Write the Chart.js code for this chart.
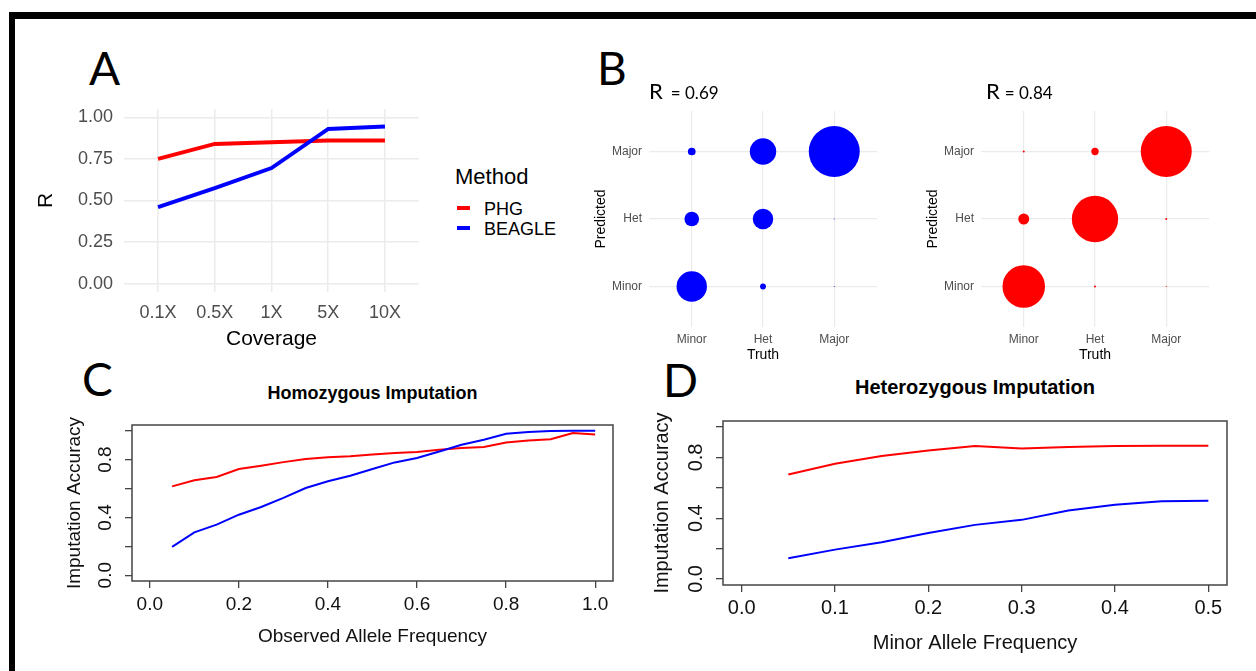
<!DOCTYPE html>
<html>
<head>
<meta charset="utf-8">
<title>PHG vs BEAGLE imputation</title>
<script src="https://cdn.jsdelivr.net/npm/chart.js@4.4.1/dist/chart.umd.min.js"></script>
<style>
  html, body { margin: 0; padding: 0; background: #fff; }
  #fig { position: relative; width: 1256px; height: 671px; overflow: hidden; background: #fff;
         font-family: 'Liberation Sans', Arial, sans-serif; color: #000; }
  #fig canvas, #fig .abs { position: absolute; }
  .frame { position: absolute; background: #000; }
  .letter { position: absolute; font-family: Lato, sans-serif; font-size: 46px; line-height: 46px; }
  .rlab { position: absolute; font-family: Lato, sans-serif; font-size: 22px; line-height: 22px; white-space: nowrap; }
  .ptitle { position: absolute; text-align: center; font-weight: bold; white-space: nowrap; }
</style>
</head>
<body>
<div id="fig">
  <div class="frame" style="left:9px;top:12px;width:1247px;height:7px"></div>
  <div class="frame" style="left:9px;top:12px;width:6px;height:659px"></div>

  <div class="letter" style="left:89px;top:45px">A</div>
  <div class="letter" style="left:597px;top:45px">B</div>
  <div class="letter" style="left:82px;top:356px">C</div>
  <div class="letter" style="left:663px;top:357px">D</div>

  <canvas id="chartA" width="420" height="300" style="left:20px;top:60px"></canvas>
  <div id="legendA"></div>

  <canvas id="chartB1" width="295" height="270" style="left:588px;top:100px"></canvas>
  <canvas id="chartB2" width="295" height="270" style="left:920px;top:100px"></canvas>
  <div class="rlab" id="rB1" style="left:649px;top:80px"></div>
  <div class="rlab" id="rB2" style="left:986px;top:80px"></div>

  <div class="ptitle" style="left:132px;top:384px;width:481px;font-size:18px;line-height:18px">Homozygous Imputation</div>
  <canvas id="chartC" width="575" height="245" style="left:55px;top:415px"></canvas>

  <div class="ptitle" style="left:723px;top:377px;width:504px;font-size:20px;line-height:20px">Heterozygous Imputation</div>
  <canvas id="chartD" width="600" height="255" style="left:645px;top:410px"></canvas>
</div>

<script>
// A: correlation by coverage
const coverage = ['0.1X', '0.5X', '1X', '5X', '10X'];
const phgR = [0.75, 0.84, 0.85, 0.86, 0.86];
const beagleR = [0.46, 0.575, 0.695, 0.93, 0.945];
const rTicks = [0, 0.25, 0.5, 0.75, 1];
const methods = ['PHG', 'BEAGLE'];

// B: % of calls, rows = predicted (Minor, Het, Major), columns = truth (Minor, Het, Major)
const genotypes = ['Minor', 'Het', 'Major'];
const beagleCalls = [[18.6, 0.7, 0.02], [4.3, 8.5, 0.02], [1.2, 14.1, 52.4]];
const phgCalls = [[26.8, 0.06, 0.02], [1.8, 31.8, 0.06], [0.06, 0.8, 38.6]];
const beagleCorr = 0.69;
const phgCorr = 0.84;

// C: homozygous imputation accuracy
const obsFreq = [0.05, 0.1, 0.15, 0.2, 0.25, 0.3, 0.35, 0.4, 0.45, 0.5,
                 0.55, 0.6, 0.65, 0.7, 0.75, 0.8, 0.85, 0.9, 0.95, 1.0];
const homPHG = [0.615, 0.657, 0.68, 0.735, 0.758, 0.783, 0.804, 0.816, 0.823, 0.836,
                0.846, 0.853, 0.869, 0.88, 0.887, 0.919, 0.933, 0.942, 0.984, 0.975];
const homBEAGLE = [0.196, 0.297, 0.35, 0.419, 0.472, 0.535, 0.604, 0.65, 0.689, 0.735,
                   0.781, 0.811, 0.857, 0.903, 0.938, 0.979, 0.991, 0.998, 1.0, 1.0];
const homTicks = [0, 0.2, 0.4, 0.6, 0.8, 1.0];

// D: heterozygous imputation accuracy
const mafFreq = [0.05, 0.1, 0.15, 0.2, 0.25, 0.3, 0.35, 0.4, 0.45, 0.5];
const hetPHG = [0.688, 0.758, 0.809, 0.846, 0.875, 0.859, 0.868, 0.875, 0.877, 0.877];
const hetBEAGLE = [0.136, 0.193, 0.242, 0.303, 0.356, 0.389, 0.451, 0.488, 0.512, 0.514];
const hetTicks = [0, 0.1, 0.2, 0.3, 0.4, 0.5];

const accTicks = [0, 0.2, 0.4, 0.6, 0.8, 1.0];
const accLabelled = [0, 0.4, 0.8];

const RED = '#ff0000';
const BLUE = '#0000ff';
const methodColors = [RED, BLUE];

Chart.defaults.font.family = "'Liberation Sans', Arial, sans-serif";
Chart.defaults.color = '#000';

// pin axis sizes so the plot areas land where the figure has them
const fix = (w, h) => (s) => {
  if (w != null) s.width = w;
  if (h != null) s.height = h;
  s.paddingTop = s.paddingBottom = s.paddingLeft = s.paddingRight = 0;
};
const setTicks = (vals) => (s) => { s.ticks = vals.map(value => ({ value })); };
const near = (a, b) => Math.abs(a - b) < 1e-6;

const base = {
  responsive: false,
  animation: false,
  events: [],
  plugins: { legend: { display: false }, tooltip: { enabled: false } },
};

// ---- A ----
const rGrid = [];
rTicks.forEach((t, i) => { rGrid.push(t); if (i < rTicks.length - 1) rGrid.push((t + rTicks[i + 1]) / 2); });
const isMajorR = v => rTicks.some(t => near(t, v));

new Chart(document.getElementById('chartA'), {
  type: 'line',
  data: {
    datasets: [
      { label: 'BEAGLE', data: beagleR.map((y, i) => ({ x: i, y })), borderColor: BLUE, borderWidth: 4, pointRadius: 0 },
      { label: 'PHG', data: phgR.map((y, i) => ({ x: i, y })), borderColor: RED, borderWidth: 4, pointRadius: 0 },
    ]
  },
  options: {
    ...base,
    layout: { autoPadding: false, padding: { top: 49, right: 21 } },
    scales: {
      x: {
        type: 'linear', min: -0.6, max: coverage.length - 0.4,
        afterBuildTicks: setTicks(coverage.map((_, i) => i)),
        afterFit: fix(null, 68),
        ticks: { callback: v => coverage[v], color: '#4d4d4d', font: { size: 18 }, padding: 10, autoSkip: false, maxRotation: 0 },
        grid: { color: '#ebebeb', lineWidth: 1.5, drawTicks: false },
        border: { display: false },
        title: { display: true, text: 'Coverage', font: { size: 21 }, padding: { top: 0, bottom: 8 } }
      },
      y: {
        type: 'linear', min: -0.05, max: 1.05,
        afterBuildTicks: setTicks(rGrid),
        afterFit: fix(104, null),
        ticks: { callback: v => isMajorR(v) ? v.toFixed(2) : '', color: '#4d4d4d', font: { size: 18 }, padding: 11 },
        grid: {
          color: c => isMajorR(c.tick.value) ? '#ebebeb' : '#f3f3f3',
          lineWidth: c => isMajorR(c.tick.value) ? 1.5 : 1,
          drawTicks: false
        },
        border: { display: false },
        title: { display: true, text: 'R', font: { size: 21 }, padding: { top: 14, bottom: 0 } }
      }
    }
  }
});

document.getElementById('legendA').innerHTML =
  '<div class="abs" style="left:455px;top:166px;font-size:22px;line-height:22px">Method</div>' +
  methods.map((m, i) =>
    `<div class="abs" style="left:457px;top:${206 + i * 20}px;width:13px;height:4px;background:${methodColors[i]}"></div>` +
    `<div class="abs" style="left:484px;top:${200 + i * 20}px;font-size:18px;line-height:18px">${m}</div>`
  ).join('');

// ---- B ----
function confusionChart(id, calls, color, yWidth, titlePad) {
  const maxCalls = Math.max(...calls.flat());
  const points = [];
  calls.forEach((row, i) => row.forEach((v, j) => {
    points.push({ x: j, y: i, r: 25.5 * Math.sqrt(v / maxCalls) });
  }));
  const axis = (title, extra) => ({
    type: 'linear', min: -0.6, max: genotypes.length - 0.4,
    afterBuildTicks: setTicks(genotypes.map((_, i) => i)),
    ticks: { callback: v => genotypes[v], color: '#4d4d4d', font: { size: 12 }, autoSkip: false, maxRotation: 0 },
    grid: { color: '#ebebeb', lineWidth: 1.2, drawTicks: false },
    border: { display: false },
    title: { display: true, text: title, font: { size: 14 } },
    ...extra
  });
  const x = axis('Truth', { afterFit: fix(null, 43) });
  x.ticks.padding = 5;
  x.title.padding = { top: 0, bottom: 6.6 };
  const y = axis('Predicted', { afterFit: fix(yWidth, null) });
  y.ticks.padding = 7;
  y.title.padding = { top: titlePad, bottom: 0 };
  new Chart(document.getElementById(id), {
    type: 'bubble',
    data: { datasets: [{ data: points, backgroundColor: color, borderWidth: 0, clip: false }] },
    options: { ...base, layout: { autoPadding: false, padding: { top: 11, right: 6 } }, scales: { x, y } }
  });
}
confusionChart('chartB1', beagleCalls, BLUE, 61, 4.5);
confusionChart('chartB2', phgCalls, RED, 61, 4.5);

const rLabel = (r, gap) => `R<span style="font-size:17px;margin-left:${gap}px">= ${r.toFixed(2)}</span>`;
document.getElementById('rB1').innerHTML = rLabel(beagleCorr, 8);
document.getElementById('rB2').innerHTML = rLabel(phgCorr, 5);

// ---- C and D ----
const boxPlugin = {
  id: 'box',
  afterDraw(chart) {
    const { ctx, chartArea: a } = chart;
    ctx.save();
    ctx.strokeStyle = '#444';
    ctx.lineWidth = 1.5;
    ctx.strokeRect(a.left, a.top, a.width, a.height);
    ctx.restore();
  }
};

function accuracyChart(id, xs, phg, beagle, xTicks, xTitle, o) {
  const span = xTicks[xTicks.length - 1] - xTicks[0];
  new Chart(document.getElementById(id), {
    type: 'line',
    data: {
      datasets: [
        { label: 'BEAGLE', data: beagle.map((y, i) => ({ x: xs[i], y })), borderColor: BLUE, borderWidth: 2, pointRadius: 0 },
        { label: 'PHG', data: phg.map((y, i) => ({ x: xs[i], y })), borderColor: RED, borderWidth: 2, pointRadius: 0 },
      ]
    },
    options: {
      ...base,
      layout: { autoPadding: false, padding: { top: o.top, right: o.right } },
      scales: {
        x: {
          type: 'linear', min: xTicks[0] - 0.04 * span, max: xTicks[xTicks.length - 1] + 0.04 * span,
          afterBuildTicks: setTicks(xTicks),
          afterFit: fix(null, o.xh),
          ticks: { callback: v => v.toFixed(1), font: { size: o.font }, color: '#111', padding: o.xtp, autoSkip: false, maxRotation: 0 },
          grid: { drawOnChartArea: false, drawTicks: true, tickLength: 7, color: '#444', lineWidth: 1.3 },
          border: { display: false },
          title: { display: true, text: xTitle, font: { size: o.font }, color: '#111', padding: { top: 0, bottom: o.xtt } }
        },
        y: {
          type: 'linear', min: -0.04, max: 1.04,
          afterBuildTicks: setTicks(accTicks),
          afterFit: fix(o.yw, null),
          ticks: {
            callback: v => accLabelled.some(t => near(t, v)) ? v.toFixed(1) : '',
            font: { size: o.font }, color: '#111', padding: o.ytp,
            minRotation: 90, maxRotation: 90, crossAlign: 'center'
          },
          grid: { drawOnChartArea: false, drawTicks: true, tickLength: 7, color: '#444', lineWidth: 1.3 },
          border: { display: false },
          title: { display: true, text: 'Imputation Accuracy', font: { size: o.font }, color: '#111', padding: { top: o.ytt, bottom: 0 } }
        }
      }
    },
    plugins: [boxPlugin]
  });
}

accuracyChart('chartC', obsFreq, homPHG, homBEAGLE, homTicks, 'Observed Allele Frequency',
  { top: 10, right: 17, xh: 79, yw: 77, font: 19, xtp: 5, xtt: 12, ytp: 6, ytt: 8 });
accuracyChart('chartD', mafFreq, hetPHG, hetBEAGLE, hetTicks, 'Minor Allele Frequency',
  { top: 11, right: 18, xh: 80, yw: 78, font: 20, xtp: 4, xtt: 10, ytp: 6, ytt: 5 });
</script>
</body>
</html>
